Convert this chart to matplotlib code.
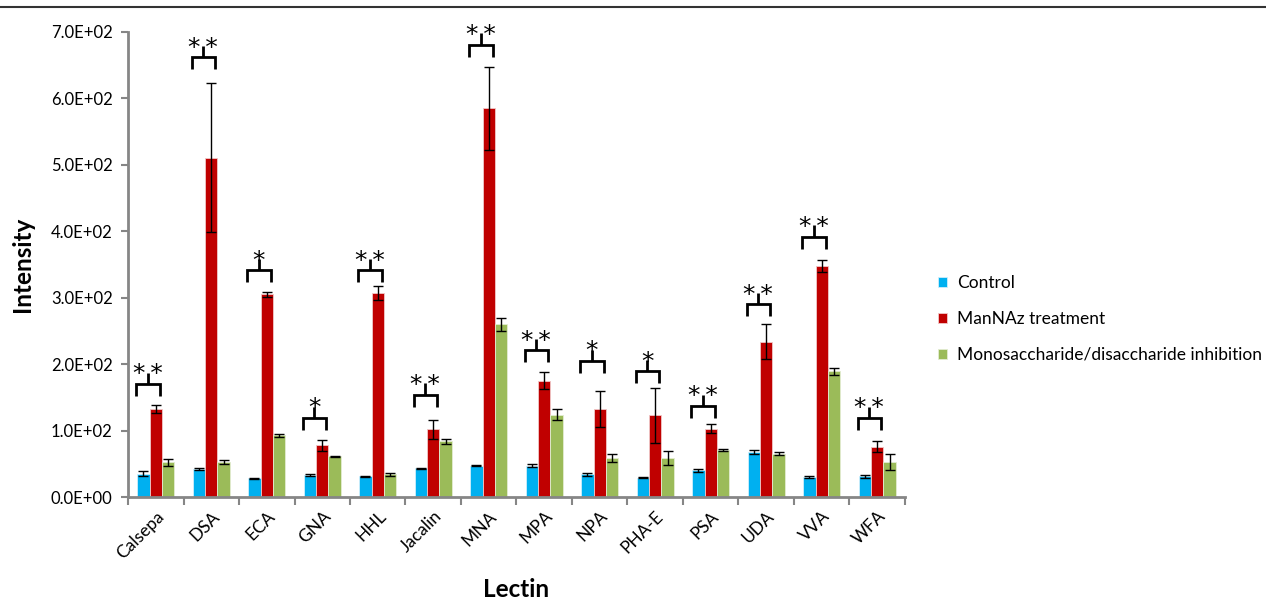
import numpy as np
import matplotlib
matplotlib.use("Agg")
import matplotlib.pyplot as plt
from matplotlib.lines import Line2D

plt.rcParams['font.family'] = ['Lato', 'DejaVu Sans']

# Data
lectins = ['Calsepa', 'DSA', 'ECA', 'GNA', 'HHL', 'Jacalin', 'MNA',
           'MPA', 'NPA', 'PHA-E', 'PSA', 'UDA', 'VVA', 'WFA']
control = [35, 42, 28, 33, 31, 43, 47, 47, 34, 29, 40, 68, 30, 31]
control_err = [4, 2, 1, 1, 1, 1, 1, 2, 2, 1, 2, 3, 1, 2]
mannaz = [132, 511, 305, 78, 307, 102, 585, 175, 132, 123, 103, 234, 348, 76]
mannaz_err = [6, 112, 4, 8, 11, 14, 62, 13, 27, 41, 7, 27, 9, 8]
inhib = [52, 53, 93, 61, 34, 84, 260, 124, 58, 59, 71, 65, 189, 53]
inhib_err = [5, 3, 2, 1, 2, 4, 10, 8, 6, 11, 2, 2, 5, 12]
sig_top = [170, 662, 341, 119, 341, 154, 681, 221, 205, 189, 137, 290, 392, 119]
stars = ['**', '**', '*', '*', '**', '**', '**', '**', '*', '*', '**', '**', '**', '**']

fig = plt.figure(figsize=(12.66, 6.02), dpi=100)
ax = fig.add_axes([128 / 1266, 1 - 497 / 602, (905 - 128) / 1266, (497 - 32) / 602])

x = np.arange(len(lectins))
w = 0.225
ekw = dict(ecolor='black', elinewidth=1, capsize=3.5, capthick=1)
ax.bar(x - w, control, w, yerr=control_err, color='#00B0F0', edgecolor='#cfeefb',
       linewidth=0.6, error_kw=ekw, label='Control', zorder=2)
ax.bar(x, mannaz, w, yerr=mannaz_err, color='#C00000', edgecolor='#f0c8c8',
       linewidth=0.6, error_kw=ekw, label='ManNAz treatment', zorder=2)
ax.bar(x + w, inhib, w, yerr=inhib_err, color='#9BBB59', edgecolor='#e3ecd2',
       linewidth=0.6, error_kw=ekw, label='Monosaccharide/disaccharide inhibition', zorder=2)

# significance brackets
for i in range(len(lectins)):
    x0, x1 = i - 0.35, i + 0.07
    xm = i - 0.145
    t = sig_top[i]
    ax.plot([x0, x0, x1, x1], [t - 18, t, t, t - 18], color='black', lw=2,
            solid_capstyle='butt', solid_joinstyle='miter', zorder=3)
    ax.plot([xm, xm], [t, t + 17], color='black', lw=2, solid_capstyle='butt', zorder=3)
    label = '*\u2009*' if stars[i] == '**' else '*'
    ax.text(xm, t + 4, label, ha='center', va='baseline', fontsize=18,
            family=['DejaVu Sans'])

ax.set_xlim(-0.5, len(lectins) - 0.5)
ax.set_ylim(0, 700)
ax.set_yticks(np.arange(0, 701, 100))
ax.set_yticklabels(['%.1fE+%02d' % (v / 100 if v else 0, 2 if v else 0) for v in range(0, 701, 100)])
ax.set_xticks(x)
ax.set_xticklabels(lectins, rotation=45, ha='right', rotation_mode='anchor')
ax.set_xticks(np.arange(-0.5, len(lectins)), minor=True)
ax.tick_params(axis='x', which='major', length=0, labelsize=12.5, pad=8)
ax.tick_params(axis='x', which='minor', length=6, width=1.5, color='#868686')
ax.tick_params(axis='y', length=5, width=1.5, color='#868686', labelsize=12, pad=6)

for s in ['top', 'right']:
    ax.spines[s].set_visible(False)
for s in ['left', 'bottom']:
    ax.spines[s].set_color('#868686')
    ax.spines[s].set_linewidth(2)

ax.set_ylabel('Intensity', fontsize=17.5, fontweight='bold', labelpad=12)
ax.set_xlabel('Lectin', fontsize=17.5, fontweight='bold', labelpad=12)

fig.legend(loc='center left', bbox_to_anchor=(931 / 1266, 1 - 319 / 602), frameon=False,
           fontsize=12.5, handlelength=0.55, handleheight=0.55, handletextpad=0.55,
           labelspacing=1.15, borderaxespad=0)

# page separator line at top
fig.add_artist(Line2D([0, 1], [1 - 7 / 602, 1 - 7 / 602], color='#333333', lw=1.5))

fig.savefig('out.png', dpi=100)
